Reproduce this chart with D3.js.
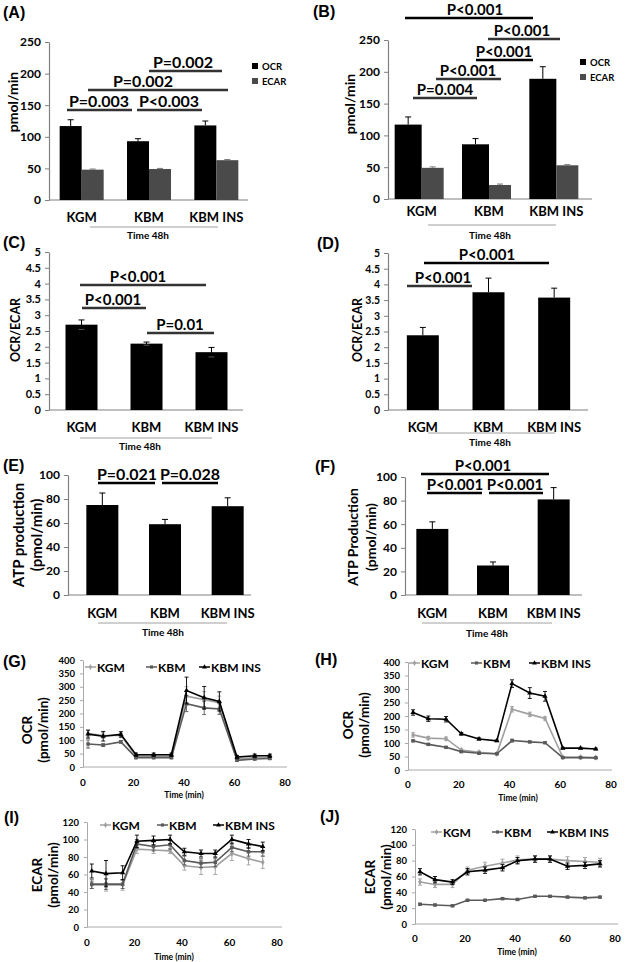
<!DOCTYPE html>
<html><head><meta charset="utf-8">
<script src="https://cdn.jsdelivr.net/npm/d3@7"></script>
<style>
body{margin:0;background:#fff}
svg{display:block}
text{font-family:Lato,'Open Sans',sans-serif;font-weight:bold;fill:#000}
</style></head>
<body><svg id="fig" width="625" height="962"></svg>
<script>
// ---------------- DATA ----------------
const categories = ["KGM", "KBM", "KBM INS"];
const barSeries = ["OCR", "ECAR"];
// Panel A (pmol/min)
const ocrA = [117, 93, 118];
const ocrErrA = [10, 4, 7];
const ecarA = [48, 49, 63];
const ecarErrA = [1, 1, 1];
// Panel B
const ocrB = [117, 86, 189];
const ocrErrB = [12, 9, 19];
const ecarB = [49, 22, 53];
const ecarErrB = [1.5, 1.5, 1];
// Panel C, D (OCR/ECAR)
const ratioC = [2.7, 2.1, 1.83];
const ratioErrC = [0.15, 0.05, 0.15];
const ratioD = [2.38, 3.75, 3.58];
const ratioErrD = [0.25, 0.45, 0.3];
// Panel E, F (ATP production)
const atpE = [75, 59, 74];
const atpErrE = [10, 4, 7];
const atpF = [56, 25, 81];
const atpErrF = [6, 3, 10];
// tick labels
const ticksAB = [0, 50, 100, 150, 200, 250];
const ticksCD = [0, 0.5, 1, 1.5, 2, 2.5, 3, 3.5, 4, 4.5, 5];
const ticksEF = [0, 20, 40, 60, 80, 100];
const timeTicks = [0, 20, 40, 60, 80];
const ocrTicks = [0, 50, 100, 150, 200, 250, 300, 350, 400];
const ecarTicks = [0, 20, 40, 60, 80, 100, 120];
// significance labels
const sigLabelsA = ["P=0.003", "P<0.003", "P=0.002", "P=0.002"];
const sigLabelsB = ["P<0.001", "P<0.001", "P<0.001", "P<0.001", "P=0.004"];
const sigLabelsC = ["P<0.001", "P<0.001", "P=0.01"];
const sigLabelsD = ["P<0.001", "P<0.001"];
const sigLabelsE = ["P=0.021", "P=0.028"];
const sigLabelsF = ["P<0.001", "P<0.001", "P<0.001"];
// time course
const timePoints = [2, 8, 15, 21, 28, 35, 41, 48, 54, 61, 68, 74];
const lineSeries = ["KGM", "KBM", "KBM INS"];
// G: OCR
const ocrG_KGM = [125, 118, 118, 40, 40, 40, 265, 252, 240, 30, 35, 35];
const ocrG_KBM = [86, 82, 94, 35, 35, 35, 237, 221, 217, 25, 30, 32];
const ocrG_INS = [123, 115, 122, 46, 46, 46, 286, 259, 245, 37, 42, 42];
const ocrErrG_KGM = [12, 10, 8, 5, 5, 5, 35, 30, 25, 5, 5, 5];
const ocrErrG_KBM = [15, 5, 5, 4, 4, 4, 30, 25, 20, 4, 4, 4];
const ocrErrG_INS = [15, 18, 10, 6, 6, 6, 50, 42, 36, 6, 6, 6];
// H: OCR
const ocrH_KGM = [130, 118, 116, 74, 66, 60, 225, 206, 191, 47, 47, 46];
const ocrH_KBM = [108, 95, 84, 68, 62, 60, 109, 104, 101, 46, 46, 45];
const ocrH_INS = [213, 190, 188, 134, 115, 108, 320, 285, 273, 81, 81, 78];
const ocrErrH_KGM = [8, 6, 6, 4, 4, 3, 10, 8, 6, 2, 2, 2];
const ocrErrH_KBM = [3, 3, 3, 3, 3, 2, 5, 3, 3, 2, 2, 2];
const ocrErrH_INS = [10, 10, 10, 5, 4, 3, 14, 20, 18, 3, 3, 3];
// I: ECAR
const ecarI_KGM = [48, 48, 48, 89, 88, 87, 70, 68, 69, 84, 78, 74];
const ecarI_KBM = [49, 49, 49, 95, 92, 94, 76, 73, 74, 91, 86, 86];
const ecarI_INS = [64, 61, 62, 98, 99, 100, 86, 84, 84, 100, 95, 92];
const ecarErrI_KGM = [4, 7, 6, 5, 4, 3, 5, 8, 9, 8, 7, 7];
const ecarErrI_KBM = [5, 6, 5, 5, 5, 5, 5, 5, 5, 5, 5, 5];
const ecarErrI_INS = [8, 15, 8, 7, 5, 5, 4, 4, 4, 5, 5, 5];
// J: ECAR
const ecarJ_KGM = [53, 50, 50, 68, 73, 77, 81, 82, 82, 80, 79, 78];
const ecarJ_KBM = [25, 24, 23, 30, 30, 32, 31, 35, 35, 34, 33, 34];
const ecarJ_INS = [66, 56, 53, 66, 68, 71, 80, 82, 82, 73, 74, 76];
const ecarErrJ_KGM = [4, 4, 4, 4, 5, 5, 5, 4, 4, 5, 5, 5];
const ecarErrJ_KBM = [1, 1, 1, 1, 1, 1, 1, 1, 1, 1, 1, 1];
const ecarErrJ_INS = [4, 4, 3, 4, 4, 4, 4, 4, 4, 4, 4, 4];

// ---------------- DRAWING ----------------
const svg = d3.select("#fig");
const AXIS = "#808080";

function label(x, y, s) {
  svg.append("text").attr("x", x).attr("y", y).text(s)
    .style("font-family", "'Liberation Sans',Arial,sans-serif").style("font-size", "16px");
}
function text(x, y, s, size, anchor) {
  return svg.append("text").attr("x", x).attr("y", y).attr("text-anchor", anchor || "middle")
    .attr("dominant-baseline", "central").style("font-size", size + "px").text(s);
}
function yTitle(lines, xs, cy, size) {
  lines.forEach((s, i) => {
    svg.append("text").attr("transform", `translate(${xs[i]},${cy}) rotate(-90)`)
      .attr("text-anchor", "middle").attr("dominant-baseline", "central")
      .style("font-size", size + "px").text(s);
  });
}
function yAxis(scale, ticks, x, size, fmt) {
  const g = svg.append("g").attr("transform", `translate(${x},0)`)
    .call(d3.axisLeft(scale).tickValues(ticks).tickSize(4).tickSizeOuter(0).tickPadding(4).tickFormat(fmt || d3.format("")));
  g.select(".domain").attr("stroke", AXIS).attr("stroke-width", 1.2);
  g.selectAll(".tick line").attr("stroke", AXIS);
  g.selectAll(".tick text").style("font-size", size + "px").style("font-family", "Lato,'Open Sans',sans-serif").style("font-weight", "bold").attr("fill", "#000");
  return g;
}

function barPanel(cfg) {
  const y = d3.scaleLinear().domain([0, cfg.max]).range([cfg.y0, cfg.y1]);
  const x = d3.scaleBand().domain(categories).range(cfg.band);
  yAxis(y, cfg.ticks, cfg.axisX, cfg.tickSize, cfg.fmt);
  svg.append("line").attr("x1", cfg.axisX).attr("x2", cfg.xEnd).attr("y1", y(0)).attr("y2", y(0))
    .attr("stroke", AXIS).attr("stroke-width", 1.2);
  cfg.series.forEach(s => {
    const g = svg.append("g");
    categories.forEach((c, i) => {
      const cx = x(c) + x.bandwidth() / 2;
      const left = cx + s.off;
      g.append("rect").attr("x", left).attr("width", s.w)
        .attr("y", y(s.values[i])).attr("height", y(0) - y(s.values[i])).attr("fill", s.color);
      const ex = left + s.w / 2;
      const top = y(s.values[i] + s.err[i]);
      const bot = s.both ? y(s.values[i] - s.err[i]) : y(s.values[i]);
      g.append("line").attr("x1", ex).attr("x2", ex).attr("y1", top).attr("y2", bot).attr("stroke", s.errColor || "#000").attr("stroke-width", 1);
      g.append("line").attr("x1", ex - 3).attr("x2", ex + 3).attr("y1", top).attr("y2", top).attr("stroke", s.errColor || "#000").attr("stroke-width", 1);
      if (s.both) g.append("line").attr("x1", ex - 3).attr("x2", ex + 3).attr("y1", bot).attr("y2", bot).attr("stroke", "#555").attr("stroke-width", 1);
    });
  });
  categories.forEach(c => text(x(c) + x.bandwidth() / 2 + (cfg.catShift || 0), cfg.catY, c, 13));
  svg.append("line").attr("x1", cfg.under[0]).attr("x2", cfg.under[1]).attr("y1", cfg.under[2]).attr("y2", cfg.under[2])
    .attr("stroke", "#a0a0a0").attr("stroke-width", 1);
  text(cfg.time[0], cfg.time[1], "Time 48h", 10);
  cfg.sig.forEach((s, i) => {
    svg.append("line").attr("x1", s[0]).attr("x2", s[1]).attr("y1", s[2]).attr("y2", s[2])
      .attr("stroke", s[4] || "#333").attr("stroke-width", 2.4);
    svg.append("text").attr("x", s[3]).attr("y", s[2] - 3.5).attr("text-anchor", "middle")
      .style("font-size", (cfg.sigSize || 16) + "px").text(cfg.sigLabels[i]);
  });
  if (cfg.legend) {
    barSeries.forEach((n, i) => {
      svg.append("rect").attr("x", cfg.legend[0]).attr("y", cfg.legend[1] + i * 15 - 3).attr("width", 6).attr("height", 6)
        .attr("fill", cfg.series[i].color);
      text(cfg.legend[0] + 10, cfg.legend[1] + i * 15, n, 9.5, "start");
    });
  }
}

// A
barPanel({max: 250, y0: 200, y1: 42, band: [48, 250], axisX: 49, xEnd: 248, ticks: ticksAB, tickSize: 12,
  series: [{values: ocrA, err: ocrErrA, color: "#000", off: -22, w: 22},
           {values: ecarA, err: ecarErrA, color: "#4a4a4a", off: 0, w: 22, errColor: "#777"}],
  catY: 217, under: [90, 218, 227], time: [148, 235],
  sig: [[67, 132, 110, 99], [137, 202, 110, 169], [88, 228, 90, 143], [149, 222, 71, 183]],
  sigLabels: sigLabelsA, legend: [252, 66]});
label(3, 18, "(A)");
yTitle(["pmol/min"], [12], 102, 14);

// B
barPanel({max: 250, y0: 199, y1: 40, band: [388, 590], axisX: 388, xEnd: 592, ticks: ticksAB, tickSize: 12,
  series: [{values: ocrB, err: ocrErrB, color: "#000", off: -27, w: 27},
           {values: ecarB, err: ecarErrB, color: "#4a4a4a", off: 0, w: 22, errColor: "#777"}],
  catY: 211, under: [428, 556, 225], time: [490, 235], sigSize: 15,
  sig: [[405, 533, 18, 475, "#000"], [488, 560, 39, 522], [476, 533, 60, 504, "#000"], [436, 501, 79, 468], [413, 477, 98, 445]],
  sigLabels: sigLabelsB, legend: [580, 62]});
label(313, 17, "(B)");
yTitle(["pmol/min"], [349], 104, 14);

// C
barPanel({max: 5, y0: 410, y1: 252, band: [49, 244], axisX: 49, xEnd: 243, ticks: ticksCD, tickSize: 11, fmt: d3.format(""),
  series: [{values: ratioC, err: ratioErrC, color: "#000", off: -16, w: 32, both: true}],
  catY: 427, under: [80, 212, 438], time: [140, 446], sigSize: 15,
  sig: [[80, 206, 285, 138], [82, 146, 308, 113], [147, 214, 333, 180]],
  sigLabels: sigLabelsC});
label(3, 248, "(C)");
yTitle(["OCR/ECAR"], [15], 330, 12.5);

// D
barPanel({max: 5, y0: 410, y1: 253, band: [390, 587], axisX: 388, xEnd: 588, ticks: ticksCD, tickSize: 10.5,
  series: [{values: ratioD, err: ratioErrD, color: "#000", off: -16, w: 32}],
  catY: 427, under: [428, 555, 433], time: [490, 442], sigSize: 15,
  sig: [[424, 549, 263, 487, "#000"], [407, 472, 286, 443]],
  sigLabels: sigLabelsD});
label(317, 249, "(D)");
yTitle(["OCR/ECAR"], [357], 330, 12.5);

// E
barPanel({max: 100, y0: 595, y1: 475, band: [71, 259], axisX: 68, xEnd: 251, ticks: ticksEF, tickSize: 12,
  series: [{values: atpE, err: atpErrE, color: "#000", off: -16, w: 32}],
  catY: 613, under: [98, 227, 623], time: [163, 632],
  sig: [[98, 155, 483, 127, "#000"], [162, 218, 483, 190, "#000"]],
  sigLabels: sigLabelsE});
label(3, 471, "(E)");
yTitle(["ATP  production", "(pmol/min)"], [18, 36], 535, 15);

// F
barPanel({max: 100, y0: 595, y1: 477, band: [402, 584], axisX: 405, xEnd: 582, ticks: ticksEF, tickSize: 12,
  series: [{values: atpF, err: atpErrF, color: "#000", off: -16, w: 32}],
  catY: 613, under: [422, 552, 623], time: [487, 633], sigSize: 15,
  sig: [[421, 549, 474, 483, "#000"], [427, 482, 493, 455, "#000"], [489, 543, 493, 515, "#000"]],
  sigLabels: sigLabelsF});
label(315, 472, "(F)");
yTitle(["ATP Production", "(pmol/min)"], [352, 370], 537, 14);

// ---------- line panels ----------
const lineColors = ["#a0a0a0", "#5a5a5a", "#000"];
const symbols = [d3.symbolDiamond, d3.symbolSquare, d3.symbolTriangle];

function linePanel(cfg) {
  const x = d3.scaleLinear().domain([0, 80]).range(cfg.xr);
  const y = d3.scaleLinear().domain([0, cfg.max]).range([cfg.y0, cfg.y1]);
  const g = yAxis(y, cfg.ticks, cfg.xr[0], 9.5);
  g.select(".domain").attr("stroke", "#aaa").attr("stroke-width", 1);
  g.selectAll(".tick line").attr("stroke", "#aaa").attr("x2", -3);
  svg.append("line").attr("x1", cfg.xr[0]).attr("x2", cfg.xEnd).attr("y1", y(0)).attr("y2", y(0)).attr("stroke", "#aaa");
  timeTicks.forEach(t => text(x(t), cfg.tickY, t, 10));
  text(cfg.titleX, cfg.titleY, "Time (min)", 8.5);
  cfg.data.forEach((vals, k) => {
    const col = lineColors[k];
    const errs = cfg.errs[k];
    const sg = svg.append("g");
    timePoints.forEach((t, i) => {
      const top = y(vals[i] + errs[i]), bot = y(vals[i] - errs[i]);
      sg.append("line").attr("x1", x(t)).attr("x2", x(t)).attr("y1", top).attr("y2", bot).attr("stroke", col).attr("stroke-width", 0.9);
      [top, bot].forEach(v => sg.append("line").attr("x1", x(t) - 2).attr("x2", x(t) + 2).attr("y1", v).attr("y2", v).attr("stroke", col).attr("stroke-width", 0.9));
    });
    svg.append("path").datum(vals)
      .attr("d", d3.line().x((d, i) => x(timePoints[i])).y(d => y(d)))
      .attr("fill", "none").attr("stroke", col).attr("stroke-width", 1.6);
    svg.append("g").selectAll("path").data(vals).join("path")
      .attr("transform", (d, i) => `translate(${x(timePoints[i])},${y(d)})`)
      .attr("d", d3.symbol().type(symbols[k]).size(12)).attr("fill", col);
  });
  lineSeries.forEach((n, k) => {
    const lx = cfg.legend[k], ly = cfg.legendY;
    svg.append("line").attr("x1", lx).attr("x2", lx + 11).attr("y1", ly).attr("y2", ly).attr("stroke", lineColors[k]).attr("stroke-width", 1.5);
    svg.append("path").attr("transform", `translate(${lx + 5.5},${ly})`).attr("d", d3.symbol().type(symbols[k]).size(10)).attr("fill", lineColors[k]);
    text(lx + 12, ly, n, 12, "start");
  });
  yTitle(cfg.yt, cfg.ytx, cfg.yty, 13.5);
}

linePanel({xr: [83, 285], xEnd: 287, max: 400, y0: 767, y1: 660, ticks: ocrTicks, tickY: 782, titleX: 184, titleY: 795,
  data: [ocrG_KGM, ocrG_KBM, ocrG_INS], errs: [ocrErrG_KGM, ocrErrG_KBM, ocrErrG_INS],
  legend: [85, 146, 199], legendY: 667, yt: ["OCR", "(pmol/min)"], ytx: [27, 43], yty: 730});
label(3, 667, "(G)");

linePanel({xr: [408, 611], xEnd: 612, max: 400, y0: 770, y1: 662, ticks: ocrTicks, tickY: 784, titleX: 518, titleY: 798,
  data: [ocrH_KGM, ocrH_KBM, ocrH_INS], errs: [ocrErrH_KGM, ocrErrH_KBM, ocrErrH_INS],
  legend: [409, 471, 529], legendY: 663, yt: ["OCR", "(pmol/min)"], ytx: [348, 364], yty: 725});
label(315, 665, "(H)");

linePanel({xr: [87, 277], xEnd: 282, max: 120, y0: 927, y1: 822, ticks: ecarTicks, tickY: 942, titleX: 174, titleY: 957,
  data: [ecarI_KGM, ecarI_KBM, ecarI_INS], errs: [ecarErrI_KGM, ecarErrI_KBM, ecarErrI_INS],
  legend: [100, 157, 213], legendY: 825, yt: ["ECAR", "(pmol/min)"], ytx: [37, 53], yty: 875});
label(4, 823, "(I)");

linePanel({xr: [415, 615], xEnd: 618, max: 120, y0: 924, y1: 829, ticks: ecarTicks, tickY: 938, titleX: 517, titleY: 952,
  data: [ecarJ_KGM, ecarJ_KBM, ecarJ_INS], errs: [ecarErrJ_KGM, ecarErrJ_KBM, ecarErrJ_INS],
  legend: [431, 492, 547], legendY: 832, yt: ["ECAR", "(pmol/min)"], ytx: [370, 386], yty: 877});
label(320, 822, "(J)");
</script>
</body></html>
